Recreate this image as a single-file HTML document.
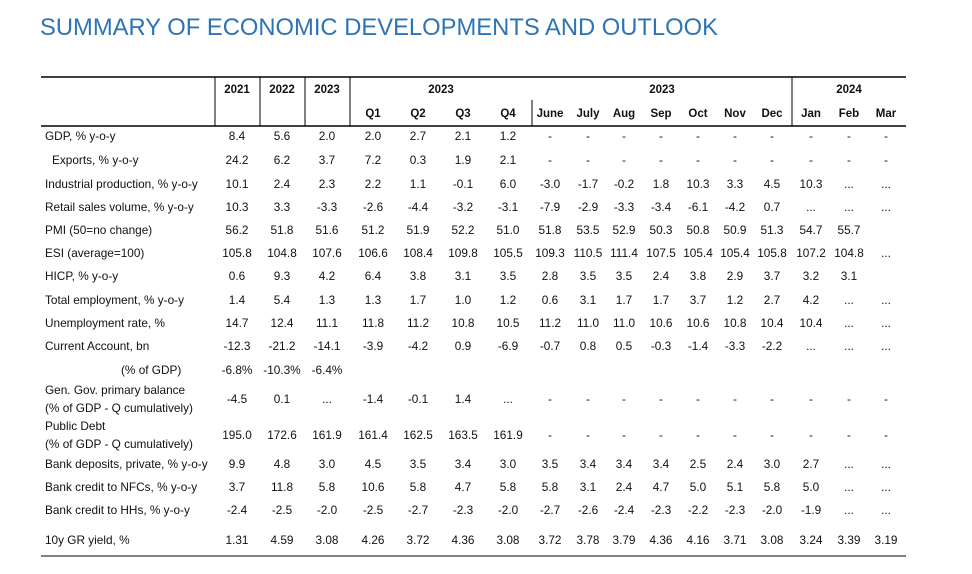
<!DOCTYPE html>
<html><head><meta charset="utf-8"><style>
html,body{margin:0;padding:0;background:#fff;width:972px;height:574px;overflow:hidden}
svg{display:block}
text{font-family:"Liberation Sans",sans-serif;font-size:11.8px;fill:#111}
.n text{text-anchor:middle}
.h text{text-anchor:middle;font-weight:bold;font-size:11.5px}
</style></head><body>
<svg width="972" height="574" viewBox="0 0 972 574">
<text x="40" y="35" style="font-size:24px;fill:#2e74b5" textLength="678" lengthAdjust="spacingAndGlyphs">SUMMARY OF ECONOMIC DEVELOPMENTS AND OUTLOOK</text>
<line x1="41" y1="77" x2="906" y2="77" stroke="#000" stroke-width="1.5"/>
<line x1="41" y1="126" x2="906" y2="126" stroke="#000" stroke-width="1.5"/>
<line x1="41" y1="556" x2="906" y2="556" stroke="#000" stroke-width="1"/>
<g stroke="#000" stroke-width="1">
<line x1="215" y1="77" x2="215" y2="126"/><line x1="260" y1="77" x2="260" y2="126"/><line x1="305" y1="77" x2="305" y2="126"/><line x1="350" y1="77" x2="350" y2="126"/><line x1="532" y1="100" x2="532" y2="126"/><line x1="792" y1="77" x2="792" y2="126"/>
</g>
<g class="h">
<text x="237" y="93">2021</text><text x="282" y="93">2022</text><text x="327" y="93">2023</text><text x="441" y="93">2023</text><text x="662" y="93">2023</text><text x="849" y="93">2024</text>
<text x="373" y="117">Q1</text><text x="418" y="117">Q2</text><text x="463" y="117">Q3</text><text x="508" y="117">Q4</text>
<text x="550" y="117">June</text><text x="588" y="117">July</text><text x="624" y="117">Aug</text><text x="661" y="117">Sep</text><text x="698" y="117">Oct</text><text x="735" y="117">Nov</text><text x="772" y="117">Dec</text><text x="811" y="117">Jan</text><text x="849" y="117">Feb</text><text x="886" y="117">Mar</text>
</g>
<g>
<text x="45" y="140">GDP, % y-o-y</text>
<text x="52" y="164">Exports, % y-o-y</text>
<text x="45" y="188">Industrial production, % y-o-y</text>
<text x="45" y="211">Retail sales volume, % y-o-y</text>
<text x="45" y="234">PMI (50=no change)</text>
<text x="45" y="257">ESI (average=100)</text>
<text x="45" y="280">HICP, % y-o-y</text>
<text x="45" y="304">Total employment, % y-o-y</text>
<text x="45" y="327">Unemployment rate, %</text>
<text x="45" y="350">Current Account, bn</text>
<text x="121" y="374">(% of GDP)</text>
<text x="45" y="394">Gen. Gov. primary balance</text>
<text x="45" y="412">(% of GDP - Q cumulatively)</text>
<text x="45" y="430">Public Debt</text>
<text x="45" y="448">(% of GDP - Q cumulatively)</text>
<text x="45" y="468">Bank deposits, private, % y-o-y</text>
<text x="45" y="491">Bank credit to NFCs, % y-o-y</text>
<text x="45" y="514">Bank credit to HHs, % y-o-y</text>
<text x="45" y="544">10y GR yield, %</text>
</g>
<g class="n">
<g transform="translate(0,140)"><text x="237">8.4</text><text x="282">5.6</text><text x="327">2.0</text><text x="373">2.0</text><text x="418">2.7</text><text x="463">2.1</text><text x="508">1.2</text><text x="550">-</text><text x="588">-</text><text x="624">-</text><text x="661">-</text><text x="698">-</text><text x="735">-</text><text x="772">-</text><text x="811">-</text><text x="849">-</text><text x="886">-</text></g>
<g transform="translate(0,164)"><text x="237">24.2</text><text x="282">6.2</text><text x="327">3.7</text><text x="373">7.2</text><text x="418">0.3</text><text x="463">1.9</text><text x="508">2.1</text><text x="550">-</text><text x="588">-</text><text x="624">-</text><text x="661">-</text><text x="698">-</text><text x="735">-</text><text x="772">-</text><text x="811">-</text><text x="849">-</text><text x="886">-</text></g>
<g transform="translate(0,188)"><text x="237">10.1</text><text x="282">2.4</text><text x="327">2.3</text><text x="373">2.2</text><text x="418">1.1</text><text x="463">-0.1</text><text x="508">6.0</text><text x="550">-3.0</text><text x="588">-1.7</text><text x="624">-0.2</text><text x="661">1.8</text><text x="698">10.3</text><text x="735">3.3</text><text x="772">4.5</text><text x="811">10.3</text><text x="849">...</text><text x="886">...</text></g>
<g transform="translate(0,211)"><text x="237">10.3</text><text x="282">3.3</text><text x="327">-3.3</text><text x="373">-2.6</text><text x="418">-4.4</text><text x="463">-3.2</text><text x="508">-3.1</text><text x="550">-7.9</text><text x="588">-2.9</text><text x="624">-3.3</text><text x="661">-3.4</text><text x="698">-6.1</text><text x="735">-4.2</text><text x="772">0.7</text><text x="811">...</text><text x="849">...</text><text x="886">...</text></g>
<g transform="translate(0,234)"><text x="237">56.2</text><text x="282">51.8</text><text x="327">51.6</text><text x="373">51.2</text><text x="418">51.9</text><text x="463">52.2</text><text x="508">51.0</text><text x="550">51.8</text><text x="588">53.5</text><text x="624">52.9</text><text x="661">50.3</text><text x="698">50.8</text><text x="735">50.9</text><text x="772">51.3</text><text x="811">54.7</text><text x="849">55.7</text></g>
<g transform="translate(0,257)"><text x="237">105.8</text><text x="282">104.8</text><text x="327">107.6</text><text x="373">106.6</text><text x="418">108.4</text><text x="463">109.8</text><text x="508">105.5</text><text x="550">109.3</text><text x="588">110.5</text><text x="624">111.4</text><text x="661">107.5</text><text x="698">105.4</text><text x="735">105.4</text><text x="772">105.8</text><text x="811">107.2</text><text x="849">104.8</text><text x="886">...</text></g>
<g transform="translate(0,280)"><text x="237">0.6</text><text x="282">9.3</text><text x="327">4.2</text><text x="373">6.4</text><text x="418">3.8</text><text x="463">3.1</text><text x="508">3.5</text><text x="550">2.8</text><text x="588">3.5</text><text x="624">3.5</text><text x="661">2.4</text><text x="698">3.8</text><text x="735">2.9</text><text x="772">3.7</text><text x="811">3.2</text><text x="849">3.1</text></g>
<g transform="translate(0,304)"><text x="237">1.4</text><text x="282">5.4</text><text x="327">1.3</text><text x="373">1.3</text><text x="418">1.7</text><text x="463">1.0</text><text x="508">1.2</text><text x="550">0.6</text><text x="588">3.1</text><text x="624">1.7</text><text x="661">1.7</text><text x="698">3.7</text><text x="735">1.2</text><text x="772">2.7</text><text x="811">4.2</text><text x="849">...</text><text x="886">...</text></g>
<g transform="translate(0,327)"><text x="237">14.7</text><text x="282">12.4</text><text x="327">11.1</text><text x="373">11.8</text><text x="418">11.2</text><text x="463">10.8</text><text x="508">10.5</text><text x="550">11.2</text><text x="588">11.0</text><text x="624">11.0</text><text x="661">10.6</text><text x="698">10.6</text><text x="735">10.8</text><text x="772">10.4</text><text x="811">10.4</text><text x="849">...</text><text x="886">...</text></g>
<g transform="translate(0,350)"><text x="237">-12.3</text><text x="282">-21.2</text><text x="327">-14.1</text><text x="373">-3.9</text><text x="418">-4.2</text><text x="463">0.9</text><text x="508">-6.9</text><text x="550">-0.7</text><text x="588">0.8</text><text x="624">0.5</text><text x="661">-0.3</text><text x="698">-1.4</text><text x="735">-3.3</text><text x="772">-2.2</text><text x="811">...</text><text x="849">...</text><text x="886">...</text></g>
<g transform="translate(0,374)"><text x="237">-6.8%</text><text x="282">-10.3%</text><text x="327">-6.4%</text></g>
<g transform="translate(0,403)"><text x="237">-4.5</text><text x="282">0.1</text><text x="327">...</text><text x="373">-1.4</text><text x="418">-0.1</text><text x="463">1.4</text><text x="508">...</text><text x="550">-</text><text x="588">-</text><text x="624">-</text><text x="661">-</text><text x="698">-</text><text x="735">-</text><text x="772">-</text><text x="811">-</text><text x="849">-</text><text x="886">-</text></g>
<g transform="translate(0,439)"><text x="237">195.0</text><text x="282">172.6</text><text x="327">161.9</text><text x="373">161.4</text><text x="418">162.5</text><text x="463">163.5</text><text x="508">161.9</text><text x="550">-</text><text x="588">-</text><text x="624">-</text><text x="661">-</text><text x="698">-</text><text x="735">-</text><text x="772">-</text><text x="811">-</text><text x="849">-</text><text x="886">-</text></g>
<g transform="translate(0,468)"><text x="237">9.9</text><text x="282">4.8</text><text x="327">3.0</text><text x="373">4.5</text><text x="418">3.5</text><text x="463">3.4</text><text x="508">3.0</text><text x="550">3.5</text><text x="588">3.4</text><text x="624">3.4</text><text x="661">3.4</text><text x="698">2.5</text><text x="735">2.4</text><text x="772">3.0</text><text x="811">2.7</text><text x="849">...</text><text x="886">...</text></g>
<g transform="translate(0,491)"><text x="237">3.7</text><text x="282">11.8</text><text x="327">5.8</text><text x="373">10.6</text><text x="418">5.8</text><text x="463">4.7</text><text x="508">5.8</text><text x="550">5.8</text><text x="588">3.1</text><text x="624">2.4</text><text x="661">4.7</text><text x="698">5.0</text><text x="735">5.1</text><text x="772">5.8</text><text x="811">5.0</text><text x="849">...</text><text x="886">...</text></g>
<g transform="translate(0,514)"><text x="237">-2.4</text><text x="282">-2.5</text><text x="327">-2.0</text><text x="373">-2.5</text><text x="418">-2.7</text><text x="463">-2.3</text><text x="508">-2.0</text><text x="550">-2.7</text><text x="588">-2.6</text><text x="624">-2.4</text><text x="661">-2.3</text><text x="698">-2.2</text><text x="735">-2.3</text><text x="772">-2.0</text><text x="811">-1.9</text><text x="849">...</text><text x="886">...</text></g>
<g transform="translate(0,544)"><text x="237">1.31</text><text x="282">4.59</text><text x="327">3.08</text><text x="373">4.26</text><text x="418">3.72</text><text x="463">4.36</text><text x="508">3.08</text><text x="550">3.72</text><text x="588">3.78</text><text x="624">3.79</text><text x="661">4.36</text><text x="698">4.16</text><text x="735">3.71</text><text x="772">3.08</text><text x="811">3.24</text><text x="849">3.39</text><text x="886">3.19</text></g>
</g>
</svg>
</body></html>
